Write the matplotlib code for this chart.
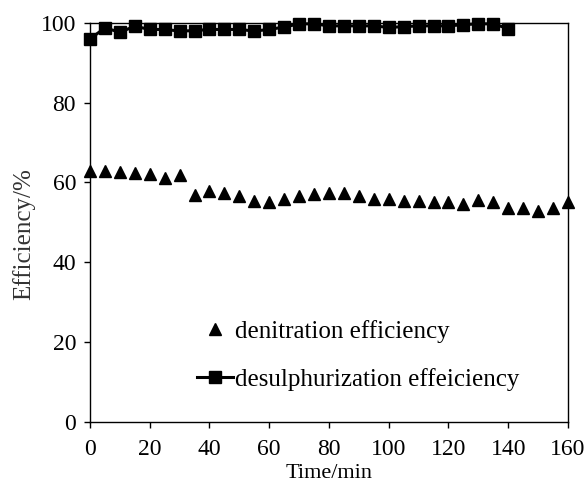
import matplotlib.pyplot as plt
import numpy as np

plt.rcParams['font.family'] = ['Liberation Serif', 'DejaVu Serif']

# denitration efficiency, every 5 min from 0 to 160
t_deno = np.arange(0, 161, 5)
deno = [62.8, 62.8, 62.7, 62.3, 62.0, 61.1, 61.8, 56.8, 57.8, 57.3, 56.6,
        55.4, 55.2, 55.8, 56.6, 57.1, 57.4, 57.4, 56.6, 55.8, 55.8, 55.4,
        55.4, 55.1, 55.1, 54.7, 55.6, 55.1, 53.5, 53.5, 52.9, 53.5, 55.2]

# desulphurization efficiency, every 5 min from 0 to 140
t_deso = np.arange(0, 141, 5)
deso = [95.9, 98.7, 97.6, 99.1, 98.3, 98.3, 97.9, 98.0, 98.3, 98.3, 98.3,
        97.9, 98.3, 98.9, 99.7, 99.7, 99.2, 99.2, 99.2, 99.2, 98.8, 99.0,
        99.2, 99.2, 99.2, 99.5, 99.7, 99.7, 98.5]

fig = plt.figure(figsize=(5.87, 4.82), dpi=100)
ax = fig.add_axes([0.1533, 0.1245, 0.8143, 0.8285])

ax.plot(t_deno, deno, ls='none', marker='^', ms=9, color='black',
        label='denitration efficiency', clip_on=False)
ax.plot(t_deso, deso, ls='-', lw=2.2, marker='s', ms=8, color='black',
        label='desulphurization effeiciency', clip_on=False)

ax.set_xlim(0, 160)
ax.set_ylim(0, 100)
ax.set_xticks(np.arange(0, 161, 20))
ax.set_yticks(np.arange(0, 101, 20))
ax.tick_params(direction='out', length=4, width=1, labelsize=17, colors='black')
ax.tick_params(axis='x', pad=8)
ax.tick_params(axis='y', pad=6)
for sp in ax.spines.values():
    sp.set_linewidth(1)

ax.set_xlabel('Time/min', fontsize=16, labelpad=3)
ax.set_ylabel('Efficiency/%', fontsize=18, color='#333333')
ax.yaxis.set_label_coords(-0.115, 0.47)

ax.legend(loc='center left', bbox_to_anchor=(0.224, 0.166), frameon=False,
          fontsize=18, labelspacing=1.0, handlelength=1.45, handletextpad=0.05,
          borderpad=0, borderaxespad=0)

fig.savefig('out.png', dpi=100)
